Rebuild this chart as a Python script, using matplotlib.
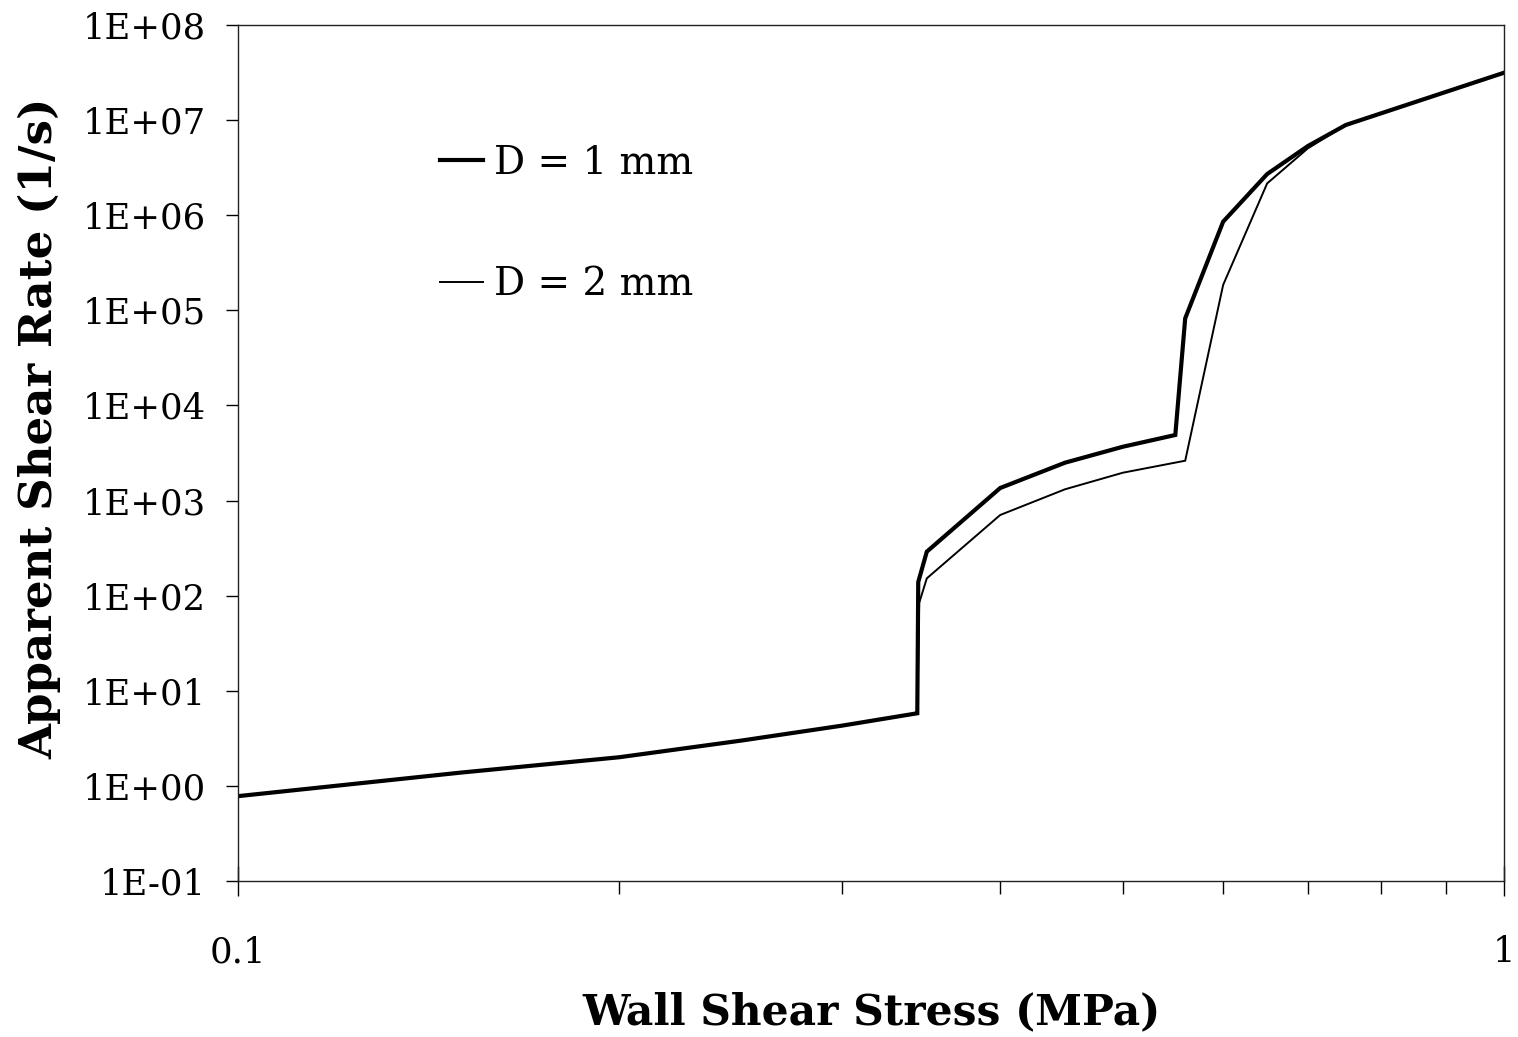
import matplotlib
matplotlib.use("Agg")
import matplotlib.pyplot as plt
from matplotlib.ticker import FixedLocator, NullFormatter, FixedFormatter

# Data
x_d1 = [0.1, 0.15, 0.2, 0.25, 0.3, 0.344, 0.3446, 0.35, 0.4, 0.45, 0.5, 0.55, 0.56, 0.6, 0.65, 0.7, 0.75, 1.0]
y_d1 = [0.78, 1.38, 2.0, 3.0, 4.3, 5.8, 139, 290, 1355, 2500, 3680, 4890, 82400, 855000, 2.71e6, 5.34e6, 8.89e6, 3.15e7]

x_d2 = [0.1, 0.15, 0.2, 0.25, 0.3, 0.344, 0.3452, 0.35, 0.4, 0.45, 0.5, 0.56, 0.6, 0.65, 0.7, 0.75, 1.0]
y_d2 = [0.78, 1.38, 2.0, 3.0, 4.3, 5.8, 84, 152, 705, 1313, 1963, 2624, 1.85e5, 2.16e6, 5.05e6, 8.89e6, 3.15e7]

labels = ["D = 1 mm", "D = 2 mm"]
y_ticks = [1e-1, 1e0, 1e1, 1e2, 1e3, 1e4, 1e5, 1e6, 1e7, 1e8]
y_tick_labels = ["1E-01", "1E+00", "1E+01", "1E+02", "1E+03", "1E+04", "1E+05", "1E+06", "1E+07", "1E+08"]
x_ticks = [0.1, 1]
x_tick_labels = ["0.1", "1"]
x_label = "Wall Shear Stress (MPa)"
y_label = "Apparent Shear Rate (1/s)"

FONT = "DejaVu Serif"
plt.rcParams["font.family"] = FONT

W, H = 1518, 1037
fig = plt.figure(figsize=(W/100, H/100), dpi=100)
ax = fig.add_axes([238/W, 1 - 881/H, (1504-238)/W, (881-25)/H])

ax.plot(x_d1, y_d1, color="black", lw=3.0, label=labels[0], solid_joinstyle="miter")
ax.plot(x_d2, y_d2, color="black", lw=1.4, label=labels[1], solid_joinstyle="miter")

ax.set_xscale("log")
ax.set_yscale("log")
ax.set_xlim(0.1, 1)
ax.set_ylim(1e-1, 1e8)

ax.yaxis.set_major_locator(FixedLocator(y_ticks))
ax.yaxis.set_major_formatter(FixedFormatter(y_tick_labels))
ax.yaxis.set_minor_locator(FixedLocator([]))
ax.xaxis.set_major_locator(FixedLocator(x_ticks))
ax.xaxis.set_major_formatter(FixedFormatter(x_tick_labels))
ax.xaxis.set_minor_locator(FixedLocator([0.2, 0.3, 0.4, 0.5, 0.6, 0.7, 0.8, 0.9]))
ax.xaxis.set_minor_formatter(NullFormatter())

ax.tick_params(axis="y", which="major", direction="out", length=9, width=1.0,
               pad=14, labelsize=25.5)
ax.tick_params(axis="x", which="major", direction="inout", length=22, width=1.0,
               pad=28, labelsize=25.5)
ax.tick_params(axis="x", which="minor", direction="out", length=9, width=1.0)

for s in ax.spines.values():
    s.set_linewidth(1.0)
    s.set_color("#222222")

fig.text(871/W, 1 - 1012/H, x_label, ha="center", va="center",
         fontsize=30.5, fontweight="bold")
fig.text(40/W, 1 - 428/H, y_label, ha="center", va="center",
         rotation=90, fontsize=32.5, fontweight="bold")

leg = ax.legend(loc="upper left", bbox_to_anchor=(440/W, 1 - 145/H),
                bbox_transform=fig.transFigure, frameon=False, borderpad=0,
                borderaxespad=0, fontsize=28, handlelength=1.1,
                handletextpad=0.3, labelspacing=2.17)

fig.savefig("out.png", dpi=100)
